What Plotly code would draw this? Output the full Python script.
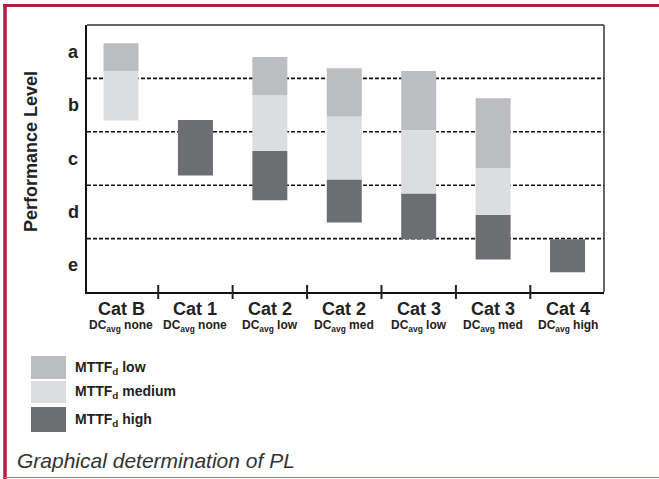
import plotly.graph_objects as go

# ---------------- data ----------------
categories = ["Cat B", "Cat 1", "Cat 2", "Cat 2", "Cat 3", "Cat 3", "Cat 4"]
dc_labels = ["none", "none", "low", "med", "low", "med", "high"]
levels = ["e", "d", "c", "b", "a"]          # bottom -> top, one unit per level
level_lines = [1, 2, 3, 4]                    # boundaries between levels

# ranges in performance-level units (0 = bottom of "e", 5 = top of "a"); None = absent
low_bottom = [4.13, None, 3.69, 3.28, 3.03, 2.32, None]
low_top    = [4.66, None, 4.40, 4.19, 4.14, 3.63, None]
med_bottom = [3.21, None, 2.64, 2.10, 1.84, 1.44, None]
med_top    = [4.13, None, 3.69, 3.28, 3.03, 2.32, None]
high_bottom = [None, 2.18, 1.72, 1.30, 0.99, 0.61, 0.37]
high_top    = [None, 3.22, 2.64, 2.10, 1.84, 1.44, 0.99]

series_names = ["MTTF<sub>d</sub> low", "MTTF<sub>d</sub> medium", "MTTF<sub>d</sub> high"]
series_colors = ["#bcbdc0", "#dcdddf", "#6d6e71"]

# ---------------- layout geometry ----------------
W, H = 659, 479
L, R, T, B = 87, 604, 25, 292
RED = "#b21f3e"
FONT = "Liberation Sans Narrow, Arial Narrow, Liberation Sans, Arial, sans-serif"


def px(x):
    return (x - L) / (R - L)


def py(y):
    return (B - y) / (B - T)


fig = go.Figure()
xs = list(range(len(categories)))
for name, color, lo, hi in [
    (series_names[0], series_colors[0], low_bottom, low_top),
    (series_names[1], series_colors[1], med_bottom, med_top),
    (series_names[2], series_colors[2], high_bottom, high_top),
]:
    heights = [None if a is None else round(b - a, 3) for a, b in zip(lo, hi)]
    fig.add_trace(go.Bar(
        x=xs, y=heights, base=lo, name=name, width=0.47,
        marker=dict(color=color, line=dict(width=0)),
        showlegend=False, hoverinfo="skip",
    ))

shapes = []
# dashed level boundaries
for v in level_lines:
    shapes.append(dict(type="line", xref="paper", yref="y", x0=0, x1=1, y0=v, y1=v,
                       line=dict(color="#111111", width=1.6, dash="4px,2px"), layer="below"))
# frame top/right
shapes.append(dict(type="line", xref="paper", yref="paper", x0=0, x1=1, y0=1, y1=1,
                   line=dict(color="#333333", width=1.5)))
shapes.append(dict(type="line", xref="paper", yref="paper", x0=1, x1=1, y0=0, y1=1,
                   line=dict(color="#333333", width=1.5)))
# category dividers on x axis
for i in range(len(categories) - 1):
    shapes.append(dict(type="line", xref="x", yref="paper", x0=i + 0.5, x1=i + 0.5,
                       y0=py(285), y1=py(299), line=dict(color="#222222", width=2)))
# red border
shapes.append(dict(type="line", xref="paper", yref="paper", x0=px(3), x1=px(W),
                   y0=py(5.5), y1=py(5.5), line=dict(color=RED, width=3)))
shapes.append(dict(type="line", xref="paper", yref="paper", x0=px(5), x1=px(5),
                   y0=py(4), y1=py(H), line=dict(color=RED, width=3.5)))
shapes.append(dict(type="line", xref="paper", yref="paper", x0=px(4), x1=px(W),
                   y0=py(477.5), y1=py(477.5), line=dict(color="#d4607a", width=1.2)))

# legend swatches
legend_y = [(356, 379), (381, 403), (407, 432)]
for (y0, y1), c in zip(legend_y, series_colors):
    shapes.append(dict(type="rect", xref="paper", yref="paper", x0=px(31), x1=px(66),
                       y0=py(y1), y1=py(y0), fillcolor=c, line=dict(width=0)))

annotations = []
# category labels
for i, (c, d) in enumerate(zip(categories, dc_labels)):
    annotations.append(dict(x=i, y=py(309), xref="x", yref="paper", text=f"<b>{c}</b>",
                            showarrow=False, font=dict(family=FONT, size=18, color="#222222"),
                            xanchor="center", yanchor="middle"))
    annotations.append(dict(x=i, y=py(326), xref="x", yref="paper",
                            text=f"<b>DC<sub>avg</sub> {d}</b>",
                            showarrow=False, font=dict(family=FONT, size=12, color="#222222"),
                            xanchor="center", yanchor="middle"))
# level labels
for i, lv in enumerate(levels):
    annotations.append(dict(x=px(73), y=i + 0.5, xref="paper", yref="y", text=f"<b>{lv}</b>",
                            showarrow=False, font=dict(family=FONT, size=18, color="#222222"),
                            xanchor="center", yanchor="middle"))
# y title
annotations.append(dict(x=px(31), y=py(152), xref="paper", yref="paper",
                        text="<b>Performance Level</b>", textangle=-90, showarrow=False,
                        font=dict(family=FONT, size=18, color="#222222"),
                        xanchor="center", yanchor="middle"))
# legend text
for (y0, y1), n in zip(legend_y, series_names):
    annotations.append(dict(x=px(73), y=py((y0 + y1) / 2), xref="paper", yref="paper",
                            text=f"<b>{n}</b>", showarrow=False,
                            font=dict(family=FONT, size=14, color="#222222"),
                            xanchor="left", yanchor="middle"))
# caption
annotations.append(dict(x=px(15), y=py(460), xref="paper", yref="paper",
                        text="<i>Graphical determination of PL</i>", showarrow=False,
                        font=dict(family="Liberation Sans, Arial, sans-serif", size=21, color="#333333"),
                        xanchor="left", yanchor="middle"))

fig.update_layout(
    width=W, height=H,
    margin=dict(l=L, r=W - R, t=T, b=H - B, pad=0),
    paper_bgcolor="white", plot_bgcolor="white",
    barmode="overlay",
    showlegend=False,
    xaxis=dict(range=[-0.457, 6.49], showticklabels=False, ticks="", showgrid=False,
               zeroline=False, showline=True, linecolor="#111111", linewidth=2.2, fixedrange=True),
    yaxis=dict(range=[0, 5], showticklabels=False, ticks="", showgrid=False,
               zeroline=False, showline=True, linecolor="#111111", linewidth=2.2, fixedrange=True),
    shapes=shapes,
    annotations=annotations,
)

fig.write_html(
    "out.html",
    config={"displayModeBar": False},
    post_script="document.body.style.margin='0';document.body.style.overflow='hidden';",
)
